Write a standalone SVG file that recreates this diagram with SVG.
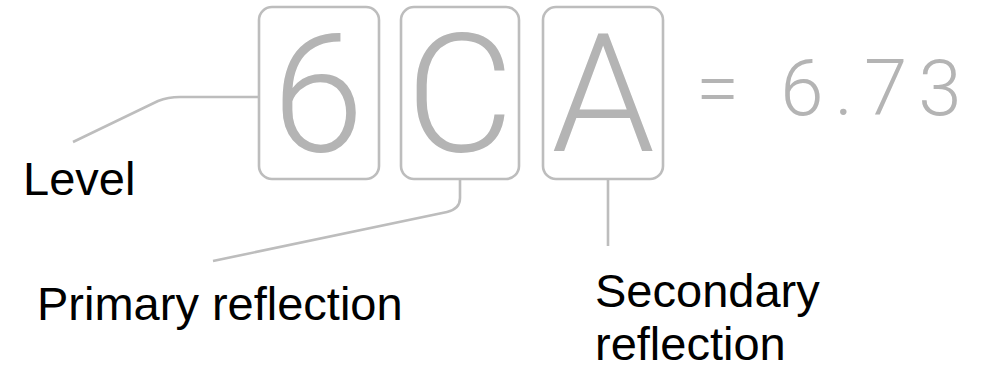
<svg xmlns="http://www.w3.org/2000/svg" width="989" height="384" viewBox="0 0 989 384">
<style>
.box{fill:none;stroke:#bdbdbd;stroke-width:2.6}
.big{font-family:Roboto,"Liberation Sans",sans-serif;font-weight:300;font-size:166px;fill:#b4b4b4;text-anchor:middle}
.val{font-family:Roboto,"Liberation Sans",sans-serif;font-weight:300;font-size:78px;fill:#b4b4b4}
.lbl{font-family:"Liberation Sans",Arial,sans-serif;font-size:47px;fill:#000}
.conn{fill:none;stroke:#bdbdbd;stroke-width:2.6}
</style>
<rect width="989" height="384" fill="#fff"/>
<g id="connectors">
<path class="conn" d="M73,142 L158,101 Q168,97 180,97 L259,97"/>
<path class="conn" d="M460,180 L460,198 Q460,209 447,212 L213,261"/>
<path class="conn" d="M608,180 L608,246"/>
</g>
<g id="box-level"><rect class="box" x="259" y="7" width="120" height="172" rx="13"/><text class="big" x="318" y="151">6</text></g>
<g id="box-primary"><rect class="box" x="401" y="7" width="118" height="172" rx="13"/><text class="big" x="460" y="151">C</text></g>
<g id="box-secondary"><rect class="box" x="543" y="7" width="120" height="172" rx="13"/><text class="big" x="603" y="151">A</text></g>
<g id="value"><text class="val" x="696" y="115" letter-spacing="11">= 6.73</text></g>
<g id="labels">
<text class="lbl" x="23" y="195">Level</text>
<text class="lbl" x="37" y="320">Primary reflection</text>
<text class="lbl" x="595" y="307">Secondary</text>
<text class="lbl" x="595" y="360">reflection</text>
</g>
</svg>
